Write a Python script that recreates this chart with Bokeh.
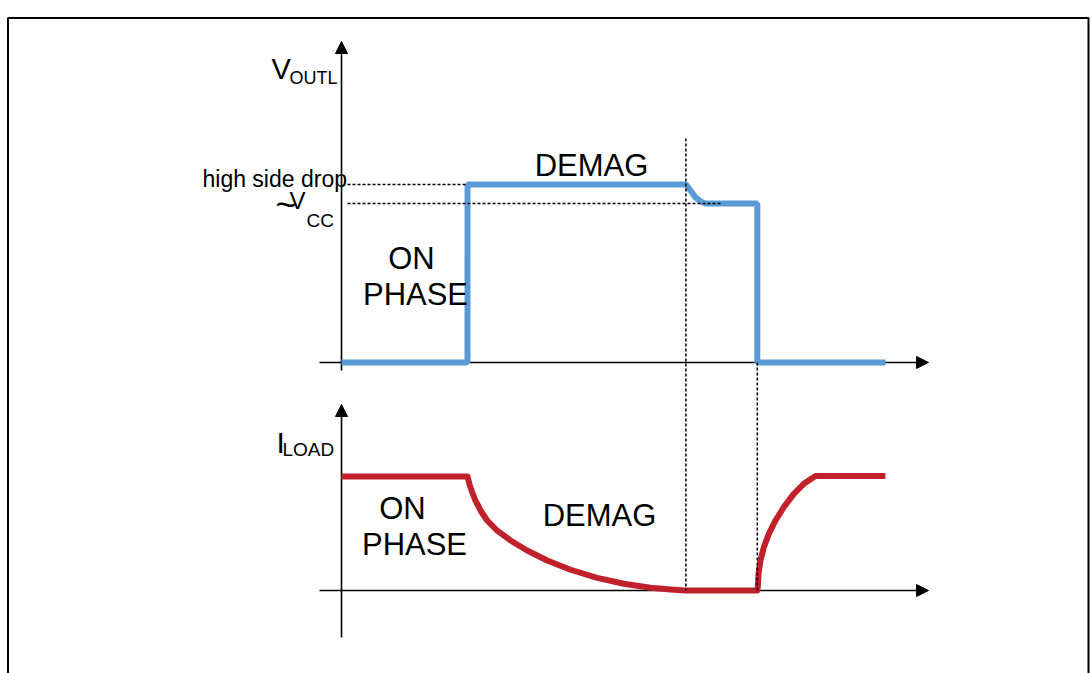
from bokeh.plotting import figure
from bokeh.models import Range1d, Arrow, NormalHead
from bokeh.core.properties import value
from bokeh.embed import file_html
from bokeh.resources import INLINE

# ---------------- data (time in arbitrary units, signals normalised) ----------
# V_OUTL waveform
v_time = [0.0, 3.0, 3.0, 8.2, 8.31, 8.43, 8.55, 8.67, 9.9, 9.9, 12.95]
v_level = [0.0, 0.0, 1.12, 1.12, 1.082, 1.038, 1.013, 1.0, 1.0, 0.0, 0.0]

# I_LOAD waveform
i_time = [0.0, 3.0, 3.055, 3.112, 3.19, 3.31, 3.469, 3.707, 4.024, 4.421, 4.898,
          5.452, 6.088, 6.721, 7.357, 7.833, 8.2,
          9.9, 9.912, 9.929, 9.976, 10.055, 10.174, 10.333, 10.531, 10.769,
          11.007, 11.286, 12.95]
i_level = [1.0, 1.0, 0.921, 0.862, 0.789, 0.702, 0.614, 0.526, 0.439, 0.351, 0.263,
           0.182, 0.111, 0.059, 0.024, 0.009, 0.0,
           0.0, 0.029, 0.146, 0.263, 0.38, 0.497, 0.614, 0.731, 0.848,
           0.936, 1.005, 1.005]

# reference levels / instants
vcc_level = 1.0
high_side_level = 1.12
t_on_end = 3.0
t_demag_end = 8.2
t_off = 9.9

# labels
top_phase_labels = ["ON", "PHASE", "DEMAG"]
bottom_phase_labels = ["ON", "PHASE", "DEMAG"]

# ---------------- layout (page pixels -> data units) --------------------------
X0, KX = 341.0, 42.0          # t = 0 at page x 341, 42 px per unit
YV0, KV = 362.0, 159.0        # V = 0 at page y 362
YI0, KI = 590.0, 114.0        # I = 0 at page y 590
W, H = 1092, 673

def T(px):
    return (px - X0) / KX

def V(py):
    return (YV0 - py) / KV

def I(py):
    return (YI0 - py) / KI

FONT = value("Liberation Sans")
BLUE = "#5B9BD5"
RED = "#C0212B"

p = figure(width=W, height=H,
           x_range=Range1d(T(0), T(W)),
           y_range=Range1d(V(H), V(0)),
           x_axis_type=None, y_axis_type=None,
           toolbar_location=None, output_backend="svg",
           min_border=0, outline_line_color=None,
           background_fill_color="white", border_fill_color="white")
p.extra_y_ranges = {"i": Range1d(I(H), I(0))}

# frame
p.line([T(7.5), T(7.5), T(1088), T(1088)], [V(700), V(17.5), V(17.5), V(700)],
       line_color="black", line_width=2)

# axes with arrow heads (below the waveforms)
def axis_arrow(xs, ys, xe, ye, rng="default"):
    a = Arrow(end=NormalHead(size=12, fill_color="black", line_color="black"),
              x_start=xs, y_start=ys, x_end=xe, y_end=ye,
              line_color="black", line_width=1.6, level="underlay")
    if rng != "default":
        a.y_range_name = rng
    p.add_layout(a)

axis_arrow(0, V(370), 0, V(41))
axis_arrow(T(319), 0, T(928), 0)
axis_arrow(0, I(637), 0, I(404), "i")
axis_arrow(T(319), 0, T(928), 0, "i")

# waveforms
p.line(v_time, v_level, line_color=BLUE, line_width=6)
p.line(i_time, i_level, line_color=RED, line_width=6, line_join="round",
       y_range_name="i")

# dashed reference lines
dash = dict(line_color="black", line_width=1.5, line_dash="3 2")
p.segment(x0=[T(347), T(347)], y0=[high_side_level, vcc_level],
          x1=[t_on_end, T(720)], y1=[high_side_level, vcc_level], **dash)
p.segment(x0=[t_demag_end, t_off], y0=[V(138), 0.0],
          x1=[t_demag_end, t_off], y1=[V(YI0), V(YI0)], **dash)

# texts (page x, page baseline y)
def txt(px, py, s, size, align="left", rng="default"):
    py = py - 0.34 * size          # compensate renderer baseline offset
    conv = I if rng == "i" else V
    kw = dict(text=[s], text_font=FONT, text_font_size=f"{size}px",
              text_color="black", text_align=align, text_baseline="alphabetic")
    if rng != "default":
        kw["y_range_name"] = rng
    p.text(x=[T(px)], y=[conv(py)], **kw)

txt(271, 78, "V", 29)
txt(289, 84, "OUTL", 18)
txt(202, 186, "high side drop", 23)
txt(275, 216, "~", 36)
txt(289, 208, "V", 24)
txt(306, 226, "CC", 19)
txt(411, 269, top_phase_labels[0], 31, "center")
txt(415, 305, top_phase_labels[1], 31, "center")
txt(591, 176, top_phase_labels[2], 31, "center")

txt(276, 452, "I", 30, rng="i")
txt(282, 455, "LOAD", 19, rng="i")
txt(402, 519, bottom_phase_labels[0], 31, "center", "i")
txt(414, 555, bottom_phase_labels[1], 31, "center", "i")
txt(599, 526, bottom_phase_labels[2], 31, "center", "i")

open("out.html", "w").write(file_html(p, INLINE))
